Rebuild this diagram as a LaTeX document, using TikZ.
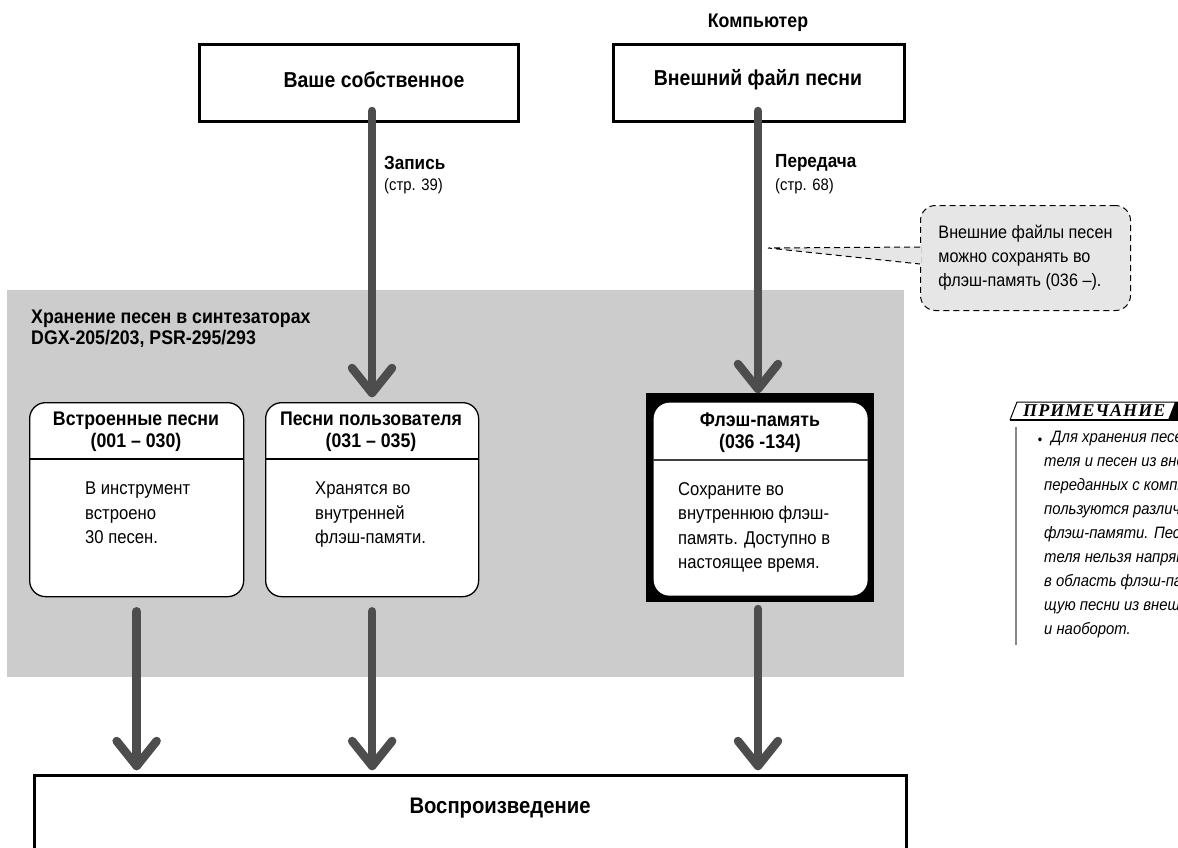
\documentclass[tikz,border=0pt]{standalone}
\usepackage{fontspec}
\setmainfont{Liberation Sans}[FakeStretch=0.9]
\newfontfamily\noteheadfont{Liberation Serif}[LetterSpace=6]
\usetikzlibrary{calc}
\definecolor{panelgray}{HTML}{CCCCCC}
\definecolor{arrowgray}{HTML}{4D4D4D}
\definecolor{calloutgray}{HTML}{E6E6E6}
\definecolor{rulegray}{HTML}{888888}
\tikzset{
  topbox/.style={draw=black, line width=2.5pt, fill=white, anchor=north west, inner sep=0pt},
  songbox/.style={draw=black, line width=1.3pt, fill=white, rounded corners=16pt, anchor=north west, inner sep=0pt},
  divider/.style={draw=black, line width=1.1pt},
  boxtitle/.style={font=\bfseries\fontsize{19.7}{22}\selectfont, align=center, inner sep=0pt},
  bigtitle/.style={font=\bfseries\fontsize{21.6}{24}\selectfont, inner sep=0pt},
  bodytext/.style={font=\fontsize{18.5}{24.5}\selectfont, align=left, anchor=north west, inner sep=0pt},
  arrowline/.style={draw=arrowgray, line width=8.5pt, line cap=round, line join=round},
  lbl/.style={font=\bfseries\fontsize{19}{22}\selectfont, anchor=west, inner sep=0pt},
  sublbl/.style={font=\fontsize{16.5}{20}\selectfont, anchor=west, inner sep=0pt},
}
\newcommand\bigarrow[2]{%
  \draw[arrowline] (#1) -- (#2);
  \draw[arrowline] ($(#2)+(-20,-25)$) -- (#2) -- ($(#2)+(20,-25)$);}
\begin{document}
\begin{tikzpicture}[x=1pt,y=-1pt]
\useasboundingbox (0,0) rectangle (1178,847);
\clip (0,0) rectangle (1178,847);
% panel
\fill[panelgray] (7,290) rectangle (904,677);
\node[font=\bfseries\fontsize{19.7}{20.5}\selectfont, align=left, anchor=north west, inner sep=0pt] (paneltitle) at (31,310) {Хранение песен в синтезаторах\\DGX-205/203, PSR-295/293};
% top boxes
\node[font=\bfseries\fontsize{19.7}{22}\selectfont, inner sep=0pt] (computer) at (758,23) {Компьютер};
\node[topbox, minimum width=319, minimum height=77] (own) at (198,43) {};
\node[bigtitle] (owntext) at (374,80) {Ваше собственное};
\node[topbox, minimum width=291, minimum height=77] (ext) at (612,43) {};
\node[bigtitle] (exttext) at (758,80) {Внешний файл песни};
% song boxes
\node[songbox, minimum width=214, minimum height=194] (b1) at (29,402) {};
\node[songbox, minimum width=213, minimum height=194] (b2) at (265,402) {};
\fill[black] (646,393) rectangle (874,602);
\node[songbox, draw=none, minimum width=214, minimum height=193] (b3) at (653,402) {};
\coordinate (dl1) at (0,459);
\coordinate (dl3) at (0,460);
\draw[divider] (b1.west |- dl1) -- (b1.east |- dl1);
\draw[divider] (b2.west |- dl1) -- (b2.east |- dl1);
\draw[divider, draw=black!75] (b3.west |- dl3) -- (b3.east |- dl3);
\node[boxtitle] (b1t) at (136,432) {Встроенные песни\\(001 – 030)};
\node[boxtitle] (b2t) at (371,432) {Песни пользователя\\(031 – 035)};
\node[boxtitle] (b3t) at (760,433) {Флэш-память\\(036 -134)};
\node[bodytext] (b1x) at (85,482) {В инструмент\\встроено\\30 песен.};
\node[bodytext] (b2x) at (315,482) {Хранятся во\\внутренней\\флэш-памяти.};
\node[bodytext] (b3x) at (678,482) {Сохраните во\\внутреннюю флэш-\\память. Доступно в\\настоящее время.};
% playback
\node[topbox, minimum width=872, minimum height=120] (play) at (33,774) {};
\node[font=\bfseries\fontsize{22.5}{24}\selectfont, inner sep=0pt] (playtext) at (500,808) {Воспроизведение};
% arrow labels
\node[lbl] (rec) at (384,163) {Запись};
\node[sublbl] (recp) at (384,186) {(стр. 39)};
\node[lbl] (tr) at (775,163) {Передача};
\node[sublbl] (trp) at (775,186) {(стр. 68)};
% arrows
\coordinate (a1s) at (372,111);
\coordinate (a1e) at (372,393);
\coordinate (a2s) at (758,111);
\coordinate (a2e) at (758,389);
\bigarrow{a1s}{a1e}
\bigarrow{a2s}{a2e}
\coordinate (c1) at ($(b1.south)+(0,14)$);
\coordinate (c2) at ($(b2.south)+(0,14)$);
\coordinate (c3) at (758,609);
\coordinate (yend) at (0,766);
\coordinate (c1e) at (c1 |- yend);
\coordinate (c2e) at (c2 |- yend);
\coordinate (c3e) at (c3 |- yend);
\bigarrow{c1}{c1e}
\bigarrow{c2}{c2e}
\bigarrow{c3}{c3e}
% callout
\node[draw=black, dashed, line width=1pt, dash pattern=on 6pt off 4pt, fill=calloutgray, rounded corners=15pt, anchor=north west, minimum width=210, minimum height=105, align=left, inner sep=0pt, font=\fontsize{18}{24}\selectfont] (callout) at (920,205) {Внешние файлы песен\\можно сохранять во\\флэш-память (036 –).};
\coordinate (ctip) at (768,248);
\coordinate (cy1) at (0,247);
\coordinate (cy2) at (0,264);
\fill[calloutgray] (ctip) -- ([xshift=1pt]callout.west |- cy1) -- ([xshift=1pt]callout.west |- cy2) -- cycle;
\draw[dashed, line width=1pt, dash pattern=on 6pt off 4pt] (callout.west |- cy1) -- (ctip) -- (callout.west |- cy2);
% note
\draw[line width=1pt] (1010,420) -- (1017,402) -- (1178,402);
\draw[line width=1.8pt] (1010,420) -- (1178,420);
\fill[black] (1168,420) -- (1175,402) -- (1190,402) -- (1190,420) -- cycle;
\node[font=\noteheadfont\bfseries\itshape\fontsize{18}{18}\selectfont, inner sep=0pt, anchor=west] (notehead) at (1023,411) {ПРИМЕЧАНИЕ};
\draw[rulegray, line width=1.2pt] (1016,427) -- (1016,645);
\node[font=\fontsize{14}{24}\selectfont, inner sep=0pt] (bullet) at (1040,441) {•};
\node[font=\itshape\fontsize{16.5}{24}\selectfont, align=left, inner sep=0pt, anchor=north west] (notetext) at (1044,431) {\hspace*{7pt}Для хранения песен пользова-\\теля и песен из внешних файлов,\\переданных с компьютера, ис-\\пользуются различные области\\флэш-памяти. Песни пользова-\\теля нельзя напрямую сохранить\\в область флэш-памяти, содержа-\\щую песни из внешних файлов,\\и наоборот.};
\end{tikzpicture}
\end{document}
